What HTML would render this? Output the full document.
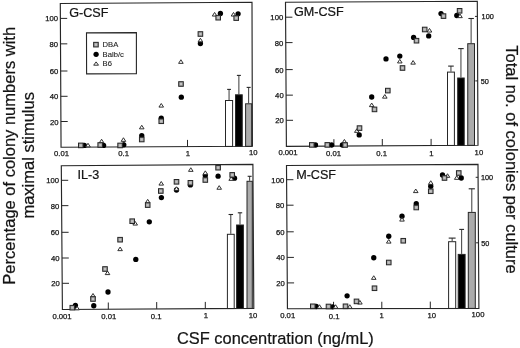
<!DOCTYPE html>
<html><head><meta charset="utf-8"><style>
html,body{margin:0;padding:0;background:#fff;}
svg{display:block;filter:blur(0.3px);}
text{font-family:"Liberation Sans",sans-serif;fill:#141414;stroke:#141414;stroke-width:0.22px;}
text.s{stroke-width:0.25px;}
text.l{stroke-width:0.1px;fill:#222;stroke:#222;}
</style></head><body>
<svg width="520" height="348" viewBox="0 0 520 348">
<rect width="520" height="348" fill="#fff"/>
<line x1="229.05" y1="89.4" x2="229.05" y2="100" stroke="#3a3a3a" stroke-width="1"/>
<line x1="227.15" y1="89.4" x2="230.95" y2="89.4" stroke="#262626" stroke-width="1.1"/>
<rect x="225.5" y="100.5" width="7.1" height="45.91" fill="#fff" stroke="#262626" stroke-width="1"/>
<line x1="238.88" y1="75.4" x2="238.88" y2="94.3" stroke="#3a3a3a" stroke-width="1"/>
<line x1="236.88" y1="75.4" x2="240.88" y2="75.4" stroke="#262626" stroke-width="1.1"/>
<rect x="235.5" y="94.8" width="6.75" height="51.56" fill="#000" stroke="#262626" stroke-width="1"/>
<line x1="248.65" y1="87.4" x2="248.65" y2="103.3" stroke="#3a3a3a" stroke-width="1"/>
<line x1="246.65" y1="87.4" x2="250.65" y2="87.4" stroke="#262626" stroke-width="1.1"/>
<rect x="245.6" y="103.8" width="6.1" height="42.52" fill="#ababab" stroke="#262626" stroke-width="1"/>
<polygon points="60.3,3.5 252,2.3 252.4,146.3 61.05,147.2" fill="none" stroke="#262626" stroke-width="1.15"/>
<line x1="60.38" y1="18.4" x2="67.18" y2="18.4" stroke="#262626" stroke-width="1"/>
<text x="57.98" y="21.43" text-anchor="end" class="s" font-size="7.7">100</text>
<line x1="60.51" y1="43.85" x2="67.31" y2="43.85" stroke="#262626" stroke-width="1"/>
<text x="58.11" y="46.88" text-anchor="end" class="s" font-size="7.7">80</text>
<line x1="60.65" y1="71" x2="67.45" y2="71" stroke="#262626" stroke-width="1"/>
<text x="58.25" y="74.03" text-anchor="end" class="s" font-size="7.7">60</text>
<line x1="60.78" y1="96.3" x2="67.58" y2="96.3" stroke="#262626" stroke-width="1"/>
<text x="58.38" y="99.33" text-anchor="end" class="s" font-size="7.7">40</text>
<line x1="60.92" y1="121.5" x2="67.72" y2="121.5" stroke="#262626" stroke-width="1"/>
<text x="58.52" y="124.53" text-anchor="end" class="s" font-size="7.7">20</text>
<line x1="124" y1="147" x2="124" y2="140.2" stroke="#262626" stroke-width="1"/>
<line x1="187.5" y1="146.7" x2="187.5" y2="139.9" stroke="#262626" stroke-width="1"/>
<text x="61.5" y="155.93" text-anchor="middle" class="s" font-size="7.7">0.01</text>
<text x="123.65" y="156.23" text-anchor="middle" class="s" font-size="7.7">0.1</text>
<text x="188" y="155.63" text-anchor="middle" class="s" font-size="7.7">1</text>
<text x="253.3" y="155.43" text-anchor="middle" class="s" font-size="7.7">10</text>
<text x="69.2" y="17" font-size="12.6">G-CSF</text>
<circle cx="84.3" cy="145.4" r="2.65" fill="#000"/>
<circle cx="103.6" cy="145.4" r="2.65" fill="#000"/>
<circle cx="123.8" cy="144.8" r="2.65" fill="#000"/>
<circle cx="141.75" cy="135.75" r="2.65" fill="#000"/>
<circle cx="161.25" cy="118.25" r="2.65" fill="#000"/>
<circle cx="181.3" cy="97.2" r="2.65" fill="#000"/>
<circle cx="200.4" cy="43.5" r="2.65" fill="#000"/>
<circle cx="220.4" cy="13.5" r="2.65" fill="#000"/>
<circle cx="238.1" cy="13.8" r="2.65" fill="#000"/>
<polygon points="88,143.25 90.3,146.85 85.7,146.85" fill="#fff" stroke="#262626" stroke-width="0.95" stroke-linejoin="round"/>
<polygon points="101.6,139.25 103.9,142.85 99.3,142.85" fill="#fff" stroke="#262626" stroke-width="0.95" stroke-linejoin="round"/>
<polygon points="123.45,137.75 125.75,141.35 121.15,141.35" fill="#fff" stroke="#262626" stroke-width="0.95" stroke-linejoin="round"/>
<polygon points="141.75,125.25 144.05,128.85 139.45,128.85" fill="#fff" stroke="#262626" stroke-width="0.95" stroke-linejoin="round"/>
<polygon points="161.25,103.5 163.55,107.1 158.95,107.1" fill="#fff" stroke="#262626" stroke-width="0.95" stroke-linejoin="round"/>
<polygon points="180.9,59.75 183.2,63.35 178.6,63.35" fill="#fff" stroke="#262626" stroke-width="0.95" stroke-linejoin="round"/>
<polygon points="200.4,38.25 202.7,41.85 198.1,41.85" fill="#fff" stroke="#262626" stroke-width="0.95" stroke-linejoin="round"/>
<polygon points="214.6,12.45 216.9,16.05 212.3,16.05" fill="#fff" stroke="#262626" stroke-width="0.95" stroke-linejoin="round"/>
<polygon points="233.5,12.45 235.8,16.05 231.2,16.05" fill="#fff" stroke="#262626" stroke-width="0.95" stroke-linejoin="round"/>
<rect x="78.5" y="143.1" width="4.6" height="4.6" fill="#a4a4a4" stroke="#262626" stroke-width="1"/><rect x="79.8" y="144.4" width="2" height="2" fill="#c4c4c4"/>
<rect x="97.9" y="142.7" width="4.6" height="4.6" fill="#a4a4a4" stroke="#262626" stroke-width="1"/><rect x="99.2" y="144" width="2" height="2" fill="#c4c4c4"/>
<rect x="117.8" y="143.15" width="4.6" height="4.6" fill="#a4a4a4" stroke="#262626" stroke-width="1"/><rect x="119.1" y="144.45" width="2" height="2" fill="#c4c4c4"/>
<rect x="139.45" y="137.2" width="4.6" height="4.6" fill="#a4a4a4" stroke="#262626" stroke-width="1"/><rect x="140.75" y="138.5" width="2" height="2" fill="#c4c4c4"/>
<rect x="158.95" y="118.95" width="4.6" height="4.6" fill="#a4a4a4" stroke="#262626" stroke-width="1"/><rect x="160.25" y="120.25" width="2" height="2" fill="#c4c4c4"/>
<rect x="178.7" y="81.7" width="4.6" height="4.6" fill="#a4a4a4" stroke="#262626" stroke-width="1"/><rect x="180" y="83" width="2" height="2" fill="#c4c4c4"/>
<rect x="198.1" y="31.7" width="4.6" height="4.6" fill="#a4a4a4" stroke="#262626" stroke-width="1"/><rect x="199.4" y="33" width="2" height="2" fill="#c4c4c4"/>
<rect x="215.9" y="15.4" width="4.6" height="4.6" fill="#a4a4a4" stroke="#262626" stroke-width="1"/><rect x="217.2" y="16.7" width="2" height="2" fill="#c4c4c4"/>
<rect x="233.9" y="15.8" width="4.6" height="4.6" fill="#a4a4a4" stroke="#262626" stroke-width="1"/><rect x="235.2" y="17.1" width="2" height="2" fill="#c4c4c4"/>
<line x1="450.95" y1="66.1" x2="450.95" y2="71.6" stroke="#3a3a3a" stroke-width="1"/>
<line x1="448.15" y1="66.1" x2="453.75" y2="66.1" stroke="#262626" stroke-width="1.1"/>
<rect x="447.5" y="72.1" width="6.9" height="73.34" fill="#fff" stroke="#262626" stroke-width="1"/>
<line x1="460.95" y1="48.6" x2="460.95" y2="77.5" stroke="#3a3a3a" stroke-width="1"/>
<line x1="458.2" y1="48.6" x2="463.7" y2="48.6" stroke="#262626" stroke-width="1.1"/>
<rect x="457.7" y="78" width="6.5" height="67.39" fill="#000" stroke="#262626" stroke-width="1"/>
<line x1="471.12" y1="18.5" x2="471.12" y2="43.2" stroke="#3a3a3a" stroke-width="1"/>
<line x1="468.38" y1="18.5" x2="473.88" y2="18.5" stroke="#262626" stroke-width="1.1"/>
<rect x="467.75" y="43.7" width="6.75" height="101.64" fill="#ababab" stroke="#262626" stroke-width="1"/>
<polygon points="285.5,2.3 477.3,1.3 478,145.3 286.4,146.3" fill="none" stroke="#262626" stroke-width="1.15"/>
<line x1="285.59" y1="17.2" x2="292.39" y2="17.2" stroke="#262626" stroke-width="1"/>
<text x="283.19" y="20.23" text-anchor="end" class="s" font-size="7.7">100</text>
<line x1="285.75" y1="42.6" x2="292.55" y2="42.6" stroke="#262626" stroke-width="1"/>
<text x="283.35" y="45.63" text-anchor="end" class="s" font-size="7.7">80</text>
<line x1="285.92" y1="69.6" x2="292.72" y2="69.6" stroke="#262626" stroke-width="1"/>
<text x="283.52" y="72.63" text-anchor="end" class="s" font-size="7.7">60</text>
<line x1="286.08" y1="95.15" x2="292.88" y2="95.15" stroke="#262626" stroke-width="1"/>
<text x="283.68" y="98.18" text-anchor="end" class="s" font-size="7.7">40</text>
<line x1="286.24" y1="120.3" x2="293.04" y2="120.3" stroke="#262626" stroke-width="1"/>
<text x="283.84" y="123.33" text-anchor="end" class="s" font-size="7.7">20</text>
<line x1="333.9" y1="146" x2="333.9" y2="139.2" stroke="#262626" stroke-width="1"/>
<line x1="382.3" y1="145.8" x2="382.3" y2="139" stroke="#262626" stroke-width="1"/>
<line x1="431.1" y1="145.7" x2="431.1" y2="138.9" stroke="#262626" stroke-width="1"/>
<text x="288" y="155.33" text-anchor="middle" class="s" font-size="7.7">0.001</text>
<text x="333.5" y="155.53" text-anchor="middle" class="s" font-size="7.7">0.01</text>
<text x="381.6" y="156.03" text-anchor="middle" class="s" font-size="7.7">0.1</text>
<text x="431.5" y="155.83" text-anchor="middle" class="s" font-size="7.7">1</text>
<text x="478.9" y="154.83" text-anchor="middle" class="s" font-size="7.7">10</text>
<line x1="477.37" y1="16.4" x2="474.97" y2="16.4" stroke="#262626" stroke-width="1"/>
<text x="481.6" y="19.13" class="s" font-size="7.3">100</text>
<line x1="477.69" y1="80.9" x2="475.29" y2="80.9" stroke="#262626" stroke-width="1"/>
<text x="480.8" y="83.63" class="s" font-size="7.3">50</text>
<text x="294" y="15.8" font-size="12.6">GM-CSF</text>
<circle cx="315.5" cy="145" r="2.65" fill="#000"/>
<circle cx="331.6" cy="145" r="2.65" fill="#000"/>
<circle cx="342.4" cy="145" r="2.65" fill="#000"/>
<circle cx="359.2" cy="134.9" r="2.65" fill="#000"/>
<circle cx="371.7" cy="97" r="2.65" fill="#000"/>
<circle cx="386" cy="58.9" r="2.65" fill="#000"/>
<circle cx="399.8" cy="56.1" r="2.65" fill="#000"/>
<circle cx="413.6" cy="37.4" r="2.65" fill="#000"/>
<circle cx="428.7" cy="35.9" r="2.65" fill="#000"/>
<circle cx="441" cy="13.6" r="2.65" fill="#000"/>
<circle cx="456.8" cy="15.5" r="2.65" fill="#000"/>
<polygon points="344.4,139.45 346.7,143.05 342.1,143.05" fill="#fff" stroke="#262626" stroke-width="0.95" stroke-linejoin="round"/>
<polygon points="356.8,128.75 359.1,132.35 354.5,132.35" fill="#fff" stroke="#262626" stroke-width="0.95" stroke-linejoin="round"/>
<polygon points="371.7,103.05 374,106.65 369.4,106.65" fill="#fff" stroke="#262626" stroke-width="0.95" stroke-linejoin="round"/>
<polygon points="384.8,94.55 387.1,98.15 382.5,98.15" fill="#fff" stroke="#262626" stroke-width="0.95" stroke-linejoin="round"/>
<polygon points="399.8,59.35 402.1,62.95 397.5,62.95" fill="#fff" stroke="#262626" stroke-width="0.95" stroke-linejoin="round"/>
<polygon points="413.1,60.55 415.4,64.15 410.8,64.15" fill="#fff" stroke="#262626" stroke-width="0.95" stroke-linejoin="round"/>
<polygon points="429.5,28.45 431.8,32.05 427.2,32.05" fill="#fff" stroke="#262626" stroke-width="0.95" stroke-linejoin="round"/>
<polygon points="460,14.05 462.3,17.65 457.7,17.65" fill="#fff" stroke="#262626" stroke-width="0.95" stroke-linejoin="round"/>
<rect x="309.5" y="142.6" width="4.6" height="4.6" fill="#a4a4a4" stroke="#262626" stroke-width="1"/><rect x="310.8" y="143.9" width="2" height="2" fill="#c4c4c4"/>
<rect x="325" y="142.6" width="4.6" height="4.6" fill="#a4a4a4" stroke="#262626" stroke-width="1"/><rect x="326.3" y="143.9" width="2" height="2" fill="#c4c4c4"/>
<rect x="342.8" y="142.7" width="4.6" height="4.6" fill="#a4a4a4" stroke="#262626" stroke-width="1"/><rect x="344.1" y="144" width="2" height="2" fill="#c4c4c4"/>
<rect x="357.2" y="125.8" width="4.6" height="4.6" fill="#a4a4a4" stroke="#262626" stroke-width="1"/><rect x="358.5" y="127.1" width="2" height="2" fill="#c4c4c4"/>
<rect x="372.2" y="107.1" width="4.6" height="4.6" fill="#a4a4a4" stroke="#262626" stroke-width="1"/><rect x="373.5" y="108.4" width="2" height="2" fill="#c4c4c4"/>
<rect x="385.5" y="88.3" width="4.6" height="4.6" fill="#a4a4a4" stroke="#262626" stroke-width="1"/><rect x="386.8" y="89.6" width="2" height="2" fill="#c4c4c4"/>
<rect x="400.2" y="65.7" width="4.6" height="4.6" fill="#a4a4a4" stroke="#262626" stroke-width="1"/><rect x="401.5" y="67" width="2" height="2" fill="#c4c4c4"/>
<rect x="414.2" y="38.4" width="4.6" height="4.6" fill="#a4a4a4" stroke="#262626" stroke-width="1"/><rect x="415.5" y="39.7" width="2" height="2" fill="#c4c4c4"/>
<rect x="422.4" y="27.2" width="4.6" height="4.6" fill="#a4a4a4" stroke="#262626" stroke-width="1"/><rect x="423.7" y="28.5" width="2" height="2" fill="#c4c4c4"/>
<rect x="441.2" y="13.8" width="4.6" height="4.6" fill="#a4a4a4" stroke="#262626" stroke-width="1"/><rect x="442.5" y="15.1" width="2" height="2" fill="#c4c4c4"/>
<rect x="457.3" y="8.5" width="4.6" height="4.6" fill="#a4a4a4" stroke="#262626" stroke-width="1"/><rect x="458.6" y="9.8" width="2" height="2" fill="#c4c4c4"/>
<line x1="230.8" y1="214.5" x2="230.8" y2="233.8" stroke="#3a3a3a" stroke-width="1"/>
<line x1="228.55" y1="214.5" x2="233.05" y2="214.5" stroke="#262626" stroke-width="1.1"/>
<rect x="227.4" y="234.3" width="6.8" height="74.23" fill="#fff" stroke="#262626" stroke-width="1"/>
<line x1="240" y1="212.8" x2="240" y2="224.5" stroke="#3a3a3a" stroke-width="1"/>
<line x1="237.8" y1="212.8" x2="242.2" y2="212.8" stroke="#262626" stroke-width="1.1"/>
<rect x="236.6" y="225" width="6.8" height="83.48" fill="#000" stroke="#262626" stroke-width="1"/>
<line x1="249.65" y1="176.3" x2="249.65" y2="180.8" stroke="#3a3a3a" stroke-width="1"/>
<line x1="247.65" y1="176.3" x2="251.65" y2="176.3" stroke="#262626" stroke-width="1.1"/>
<rect x="247" y="181.3" width="5.3" height="127.12" fill="#ababab" stroke="#262626" stroke-width="1"/>
<polygon points="61.3,165.75 252.9,164.4 253.8,308.4 62.4,309.5" fill="none" stroke="#262626" stroke-width="1.15"/>
<line x1="61.41" y1="180.3" x2="68.21" y2="180.3" stroke="#262626" stroke-width="1"/>
<text x="59.01" y="183.33" text-anchor="end" class="s" font-size="7.7">100</text>
<line x1="61.61" y1="205.65" x2="68.41" y2="205.65" stroke="#262626" stroke-width="1"/>
<text x="59.21" y="208.68" text-anchor="end" class="s" font-size="7.7">80</text>
<line x1="61.81" y1="232.3" x2="68.61" y2="232.3" stroke="#262626" stroke-width="1"/>
<text x="59.41" y="235.33" text-anchor="end" class="s" font-size="7.7">60</text>
<line x1="62.01" y1="258" x2="68.81" y2="258" stroke="#262626" stroke-width="1"/>
<text x="59.61" y="261.03" text-anchor="end" class="s" font-size="7.7">40</text>
<line x1="62.2" y1="283.3" x2="69" y2="283.3" stroke="#262626" stroke-width="1"/>
<text x="59.8" y="286.33" text-anchor="end" class="s" font-size="7.7">20</text>
<line x1="108.3" y1="309.3" x2="108.3" y2="302.5" stroke="#262626" stroke-width="1"/>
<line x1="156.7" y1="308.85" x2="156.7" y2="302.05" stroke="#262626" stroke-width="1"/>
<line x1="205.3" y1="308.7" x2="205.3" y2="301.9" stroke="#262626" stroke-width="1"/>
<text x="62" y="318.83" text-anchor="middle" class="s" font-size="7.7">0.001</text>
<text x="108.8" y="318.58" text-anchor="middle" class="s" font-size="7.7">0.01</text>
<text x="156.1" y="318.53" text-anchor="middle" class="s" font-size="7.7">0.1</text>
<text x="205.8" y="318.23" text-anchor="middle" class="s" font-size="7.7">1</text>
<text x="253" y="318.03" text-anchor="middle" class="s" font-size="7.7">10</text>
<text x="77.5" y="179" font-size="12.6">IL-3</text>
<circle cx="75.4" cy="305.4" r="2.65" fill="#000"/>
<circle cx="93.75" cy="305.75" r="2.65" fill="#000"/>
<circle cx="108" cy="292" r="2.65" fill="#000"/>
<circle cx="135.8" cy="259.4" r="2.65" fill="#000"/>
<circle cx="149.3" cy="221.8" r="2.65" fill="#000"/>
<circle cx="161.4" cy="197.6" r="2.65" fill="#000"/>
<circle cx="176.5" cy="190" r="2.65" fill="#000"/>
<circle cx="190.4" cy="184.9" r="2.65" fill="#000"/>
<circle cx="205.3" cy="175.4" r="2.65" fill="#000"/>
<circle cx="218.1" cy="176.2" r="2.65" fill="#000"/>
<circle cx="234.5" cy="178.2" r="2.65" fill="#000"/>
<polygon points="77.1,306.25 79.4,309.85 74.8,309.85" fill="#fff" stroke="#262626" stroke-width="0.95" stroke-linejoin="round"/>
<polygon points="93,293.5 95.3,297.1 90.7,297.1" fill="#fff" stroke="#262626" stroke-width="0.95" stroke-linejoin="round"/>
<polygon points="107.5,271 109.8,274.6 105.2,274.6" fill="#fff" stroke="#262626" stroke-width="0.95" stroke-linejoin="round"/>
<polygon points="120.1,247.05 122.4,250.65 117.8,250.65" fill="#fff" stroke="#262626" stroke-width="0.95" stroke-linejoin="round"/>
<polygon points="135.2,221.45 137.5,225.05 132.9,225.05" fill="#fff" stroke="#262626" stroke-width="0.95" stroke-linejoin="round"/>
<polygon points="147.7,199.35 150,202.95 145.4,202.95" fill="#fff" stroke="#262626" stroke-width="0.95" stroke-linejoin="round"/>
<polygon points="161.25,181.5 163.55,185.1 158.95,185.1" fill="#fff" stroke="#262626" stroke-width="0.95" stroke-linejoin="round"/>
<polygon points="176.5,186.75 178.8,190.35 174.2,190.35" fill="#fff" stroke="#262626" stroke-width="0.95" stroke-linejoin="round"/>
<polygon points="190.8,167.75 193.1,171.35 188.5,171.35" fill="#fff" stroke="#262626" stroke-width="0.95" stroke-linejoin="round"/>
<polygon points="205.3,170.85 207.6,174.45 203,174.45" fill="#fff" stroke="#262626" stroke-width="0.95" stroke-linejoin="round"/>
<polygon points="219.2,185.65 221.5,189.25 216.9,189.25" fill="#fff" stroke="#262626" stroke-width="0.95" stroke-linejoin="round"/>
<polygon points="231.2,176.75 233.5,180.35 228.9,180.35" fill="#fff" stroke="#262626" stroke-width="0.95" stroke-linejoin="round"/>
<rect x="70" y="305.4" width="4.6" height="4.6" fill="#a4a4a4" stroke="#262626" stroke-width="1"/><rect x="71.3" y="306.7" width="2" height="2" fill="#c4c4c4"/>
<rect x="90.7" y="296.7" width="4.6" height="4.6" fill="#a4a4a4" stroke="#262626" stroke-width="1"/><rect x="92" y="298" width="2" height="2" fill="#c4c4c4"/>
<rect x="102.7" y="266.7" width="4.6" height="4.6" fill="#a4a4a4" stroke="#262626" stroke-width="1"/><rect x="104" y="268" width="2" height="2" fill="#c4c4c4"/>
<rect x="117.8" y="237.4" width="4.6" height="4.6" fill="#a4a4a4" stroke="#262626" stroke-width="1"/><rect x="119.1" y="238.7" width="2" height="2" fill="#c4c4c4"/>
<rect x="129.9" y="218.9" width="4.6" height="4.6" fill="#a4a4a4" stroke="#262626" stroke-width="1"/><rect x="131.2" y="220.2" width="2" height="2" fill="#c4c4c4"/>
<rect x="145.4" y="202.8" width="4.6" height="4.6" fill="#a4a4a4" stroke="#262626" stroke-width="1"/><rect x="146.7" y="204.1" width="2" height="2" fill="#c4c4c4"/>
<rect x="158.5" y="188.7" width="4.6" height="4.6" fill="#a4a4a4" stroke="#262626" stroke-width="1"/><rect x="159.8" y="190" width="2" height="2" fill="#c4c4c4"/>
<rect x="174.2" y="179.5" width="4.6" height="4.6" fill="#a4a4a4" stroke="#262626" stroke-width="1"/><rect x="175.5" y="180.8" width="2" height="2" fill="#c4c4c4"/>
<rect x="188.1" y="180.5" width="4.6" height="4.6" fill="#a4a4a4" stroke="#262626" stroke-width="1"/><rect x="189.4" y="181.8" width="2" height="2" fill="#c4c4c4"/>
<rect x="203" y="177.7" width="4.6" height="4.6" fill="#a4a4a4" stroke="#262626" stroke-width="1"/><rect x="204.3" y="179" width="2" height="2" fill="#c4c4c4"/>
<rect x="215.8" y="165.4" width="4.6" height="4.6" fill="#a4a4a4" stroke="#262626" stroke-width="1"/><rect x="217.1" y="166.7" width="2" height="2" fill="#c4c4c4"/>
<rect x="229.9" y="172.6" width="4.6" height="4.6" fill="#a4a4a4" stroke="#262626" stroke-width="1"/><rect x="231.2" y="173.9" width="2" height="2" fill="#c4c4c4"/>
<line x1="452.15" y1="238.1" x2="452.15" y2="241.2" stroke="#3a3a3a" stroke-width="1"/>
<line x1="448.7" y1="238.1" x2="455.6" y2="238.1" stroke="#262626" stroke-width="1.1"/>
<rect x="448.6" y="241.7" width="7.1" height="66.74" fill="#fff" stroke="#262626" stroke-width="1"/>
<line x1="461.65" y1="229.4" x2="461.65" y2="253.9" stroke="#3a3a3a" stroke-width="1"/>
<line x1="459.25" y1="229.4" x2="464.05" y2="229.4" stroke="#262626" stroke-width="1.1"/>
<rect x="458.2" y="254.4" width="6.9" height="54.03" fill="#000" stroke="#262626" stroke-width="1"/>
<line x1="471.8" y1="188.8" x2="471.8" y2="211.9" stroke="#3a3a3a" stroke-width="1"/>
<line x1="468.7" y1="188.8" x2="474.9" y2="188.8" stroke="#262626" stroke-width="1.1"/>
<rect x="468.3" y="212.4" width="7" height="96.01" fill="#ababab" stroke="#262626" stroke-width="1"/>
<polygon points="286.5,165.5 478,164.4 478.9,308.4 287.45,308.7" fill="none" stroke="#262626" stroke-width="1.15"/>
<line x1="286.59" y1="179.7" x2="293.39" y2="179.7" stroke="#262626" stroke-width="1"/>
<text x="284.19" y="182.73" text-anchor="end" class="s" font-size="7.7">100</text>
<line x1="286.76" y1="205.2" x2="293.56" y2="205.2" stroke="#262626" stroke-width="1"/>
<text x="284.36" y="208.23" text-anchor="end" class="s" font-size="7.7">80</text>
<line x1="286.94" y1="231.8" x2="293.74" y2="231.8" stroke="#262626" stroke-width="1"/>
<text x="284.54" y="234.83" text-anchor="end" class="s" font-size="7.7">60</text>
<line x1="287.11" y1="257.4" x2="293.91" y2="257.4" stroke="#262626" stroke-width="1"/>
<text x="284.71" y="260.43" text-anchor="end" class="s" font-size="7.7">40</text>
<line x1="287.28" y1="282.9" x2="294.08" y2="282.9" stroke="#262626" stroke-width="1"/>
<text x="284.88" y="285.93" text-anchor="end" class="s" font-size="7.7">20</text>
<line x1="333.55" y1="308.6" x2="333.55" y2="301.8" stroke="#262626" stroke-width="1"/>
<line x1="381.8" y1="308.55" x2="381.8" y2="301.75" stroke="#262626" stroke-width="1"/>
<line x1="430.3" y1="308.4" x2="430.3" y2="301.6" stroke="#262626" stroke-width="1"/>
<text x="287.7" y="318.23" text-anchor="middle" class="s" font-size="7.7">0.01</text>
<text x="334.1" y="318.58" text-anchor="middle" class="s" font-size="7.7">0.1</text>
<text x="381.7" y="318.33" text-anchor="middle" class="s" font-size="7.7">1</text>
<text x="431.8" y="318.13" text-anchor="middle" class="s" font-size="7.7">10</text>
<text x="478" y="317.33" text-anchor="middle" class="s" font-size="7.7">100</text>
<line x1="478.08" y1="177.3" x2="475.68" y2="177.3" stroke="#262626" stroke-width="1"/>
<text x="480.9" y="180.03" class="s" font-size="7.3">100</text>
<line x1="478.49" y1="242.8" x2="476.09" y2="242.8" stroke="#262626" stroke-width="1"/>
<text x="481.3" y="245.53" class="s" font-size="7.3">50</text>
<text x="296.2" y="178.75" font-size="12.6">M-CSF</text>
<circle cx="316.2" cy="306.5" r="2.65" fill="#000"/>
<circle cx="332.6" cy="306.8" r="2.65" fill="#000"/>
<circle cx="347.1" cy="295.8" r="2.65" fill="#000"/>
<circle cx="373.75" cy="257.75" r="2.65" fill="#000"/>
<circle cx="388.75" cy="236.25" r="2.65" fill="#000"/>
<circle cx="402" cy="216.25" r="2.65" fill="#000"/>
<circle cx="416.25" cy="203.75" r="2.65" fill="#000"/>
<circle cx="430.75" cy="186.25" r="2.65" fill="#000"/>
<circle cx="442.5" cy="175" r="2.65" fill="#000"/>
<circle cx="461.25" cy="178" r="2.65" fill="#000"/>
<polygon points="319.5,304.75 321.8,308.35 317.2,308.35" fill="#fff" stroke="#262626" stroke-width="0.95" stroke-linejoin="round"/>
<polygon points="335.6,304.75 337.9,308.35 333.3,308.35" fill="#fff" stroke="#262626" stroke-width="0.95" stroke-linejoin="round"/>
<polygon points="349.8,304.75 352.1,308.35 347.5,308.35" fill="#fff" stroke="#262626" stroke-width="0.95" stroke-linejoin="round"/>
<polygon points="359.9,300.45 362.2,304.05 357.6,304.05" fill="#fff" stroke="#262626" stroke-width="0.95" stroke-linejoin="round"/>
<polygon points="373.75,275.75 376.05,279.35 371.45,279.35" fill="#fff" stroke="#262626" stroke-width="0.95" stroke-linejoin="round"/>
<polygon points="388.75,239.5 391.05,243.1 386.45,243.1" fill="#fff" stroke="#262626" stroke-width="0.95" stroke-linejoin="round"/>
<polygon points="402,217.5 404.3,221.1 399.7,221.1" fill="#fff" stroke="#262626" stroke-width="0.95" stroke-linejoin="round"/>
<polygon points="415.75,189 418.05,192.6 413.45,192.6" fill="#fff" stroke="#262626" stroke-width="0.95" stroke-linejoin="round"/>
<polygon points="430.75,180.75 433.05,184.35 428.45,184.35" fill="#fff" stroke="#262626" stroke-width="0.95" stroke-linejoin="round"/>
<polygon points="447.5,173.75 449.8,177.35 445.2,177.35" fill="#fff" stroke="#262626" stroke-width="0.95" stroke-linejoin="round"/>
<polygon points="456.75,175.75 459.05,179.35 454.45,179.35" fill="#fff" stroke="#262626" stroke-width="0.95" stroke-linejoin="round"/>
<rect x="310.5" y="304" width="4.6" height="4.6" fill="#a4a4a4" stroke="#262626" stroke-width="1"/><rect x="311.8" y="305.3" width="2" height="2" fill="#c4c4c4"/>
<rect x="326.2" y="304.2" width="4.6" height="4.6" fill="#a4a4a4" stroke="#262626" stroke-width="1"/><rect x="327.5" y="305.5" width="2" height="2" fill="#c4c4c4"/>
<rect x="343.2" y="304" width="4.6" height="4.6" fill="#a4a4a4" stroke="#262626" stroke-width="1"/><rect x="344.5" y="305.3" width="2" height="2" fill="#c4c4c4"/>
<rect x="354.2" y="299.1" width="4.6" height="4.6" fill="#a4a4a4" stroke="#262626" stroke-width="1"/><rect x="355.5" y="300.4" width="2" height="2" fill="#c4c4c4"/>
<rect x="372.2" y="285.95" width="4.6" height="4.6" fill="#a4a4a4" stroke="#262626" stroke-width="1"/><rect x="373.5" y="287.25" width="2" height="2" fill="#c4c4c4"/>
<rect x="386.45" y="260.2" width="4.6" height="4.6" fill="#a4a4a4" stroke="#262626" stroke-width="1"/><rect x="387.75" y="261.5" width="2" height="2" fill="#c4c4c4"/>
<rect x="400.95" y="238.45" width="4.6" height="4.6" fill="#a4a4a4" stroke="#262626" stroke-width="1"/><rect x="402.25" y="239.75" width="2" height="2" fill="#c4c4c4"/>
<rect x="413.95" y="205.2" width="4.6" height="4.6" fill="#a4a4a4" stroke="#262626" stroke-width="1"/><rect x="415.25" y="206.5" width="2" height="2" fill="#c4c4c4"/>
<rect x="428.45" y="188.95" width="4.6" height="4.6" fill="#a4a4a4" stroke="#262626" stroke-width="1"/><rect x="429.75" y="190.25" width="2" height="2" fill="#c4c4c4"/>
<rect x="442.2" y="175.7" width="4.6" height="4.6" fill="#a4a4a4" stroke="#262626" stroke-width="1"/><rect x="443.5" y="177" width="2" height="2" fill="#c4c4c4"/>
<rect x="456.45" y="170.7" width="4.6" height="4.6" fill="#a4a4a4" stroke="#262626" stroke-width="1"/><rect x="457.75" y="172" width="2" height="2" fill="#c4c4c4"/>
<polygon points="86.5,32.9 136.4,32.6 136.4,73.6 86.6,73.9" fill="#fff" stroke="#262626" stroke-width="1.1"/>
<rect x="93.65" y="42.35" width="4.6" height="4.6" fill="#a4a4a4" stroke="#262626" stroke-width="1"/><rect x="94.95" y="43.65" width="2" height="2" fill="#c4c4c4"/>
<circle cx="96.1" cy="54.3" r="2.65" fill="#000"/>
<polygon points="96.1,61.9 98.5,65.2 93.7,65.2" fill="#fff" stroke="#262626" stroke-width="0.95" stroke-linejoin="round"/>
<text x="102.6" y="47.2" class="l" font-size="7.65">DBA</text>
<text x="102.6" y="56.85" class="l" font-size="7.65">Balb/c</text>
<text x="102.6" y="65.6" class="l" font-size="7.65">B6</text>

<text transform="translate(15.3,155.8) rotate(-90)" text-anchor="middle" font-size="16.5">Percentage of colony numbers with</text>
<text transform="translate(34.4,155.3) rotate(-90)" text-anchor="middle" font-size="16.5">maximal stimulus</text>
<text transform="translate(506.0,159.5) rotate(90)" text-anchor="middle" font-size="16.5">Total no. of colonies per culture</text>
<text x="177.0" y="343.5" font-size="16.4">CSF concentration (ng/mL)</text>

</svg>
</body></html>
